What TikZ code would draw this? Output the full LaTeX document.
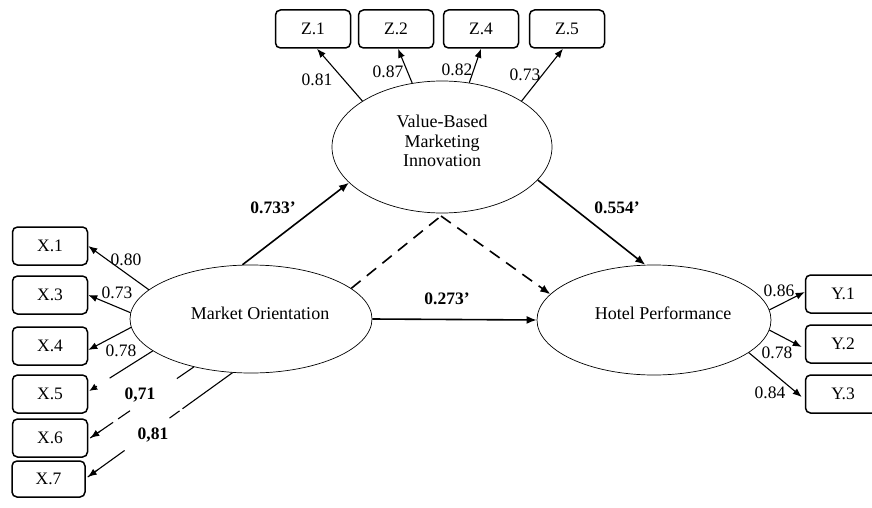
\documentclass[tikz,border=0pt]{standalone}
\usepackage{fontspec}
\setmainfont{Liberation Serif}
\usetikzlibrary{arrows.meta,shapes.geometric,calc}
\begin{document}
\begin{tikzpicture}[x=1pt,y=-1pt,
  font=\fontsize{17.5}{19}\selectfont,
  ind/.style={draw,rounded corners=5pt,line width=1.5pt,minimum width=75pt,minimum height=38pt,inner sep=0pt},
  lat/.style={draw,ellipse,line width=0.7pt,inner sep=0pt},
  latname/.style={inner sep=0pt,align=center,font=\fontsize{18}{19.5}\selectfont},
  arr/.style={line width=1.1pt,-{Latex[length=9pt,width=7pt]}},
  ln/.style={line width=1.1pt},
  struct/.style={line width=1.6pt,-{Latex[length=10pt,width=8pt]}},
  lbl/.style={inner sep=0pt},
  blbl/.style={inner sep=0pt,font=\fontsize{17.5}{19}\selectfont\bfseries}]
\clip (0,0) rectangle (872,508);
\fill[white] (0,0) rectangle (872,508);

% latent variables
\node[lat,minimum width=220pt,minimum height=132pt] (vb) at (442,147) {};
\node[latname] (vbt) at (442,141) {Value-Based\\Marketing\\Innovation};
\node[lat,minimum width=242pt,minimum height=108pt] (mo) at (251,319) {};
\node[latname] (mot) at (260,313) {Market Orientation};
\node[lat,minimum width=234pt,minimum height=110pt] (hp) at (654,320) {};
\node[latname] (hpt) at (663,313) {Hotel Performance};

% indicators
\node[ind] (z1) at (313,29) {Z.1};
\node[ind] (z2) at (396,29) {Z.2};
\node[ind] (z4) at (481,29) {Z.4};
\node[ind] (z5) at (567,29) {Z.5};

\node[ind] (x1) at (50,246) {X.1};
\node[ind] (x3) at (50,295) {X.3};
\node[ind] (x4) at (50,346) {X.4};
\node[ind] (x5) at (50,394) {X.5};
\node[ind] (x6) at (50,438) {X.6};
\node[ind,minimum height=36pt,minimum width=73pt] (x7) at (48.5,479) {X.7};

\node[ind] (y1) at (843,294) {Y.1};
\node[ind] (y2) at (843,344) {Y.2};
\node[ind] (y3) at (843,394) {Y.3};

% loadings of VB
\draw[arr] (vb.150) -- ([xshift=4pt]z1.south);
\draw[arr] (vb.115) -- ([xshift=2pt]z2.south);
\draw[arr] (vb.67) -- (z4.south);
\draw[arr] (vb.30) -- ([xshift=-4pt]z5.south);
\node[lbl] (l1) at (317,80) {0.81};
\node[lbl] (l2) at (388,72) {0.87};
\node[lbl] (l3) at (457,70) {0.82};
\node[lbl] (l4) at (525,75) {0.73};

% loadings of MO
\draw[arr] (mo.164) -- (x1.east);
\draw[arr] (mo.177) -- (x3.east);
\draw[arr] (mo.184) -- ([yshift=-4pt]x4.east);
\coordinate (e5) at ([yshift=3pt,xshift=1pt]x5.east);
\coordinate (e6) at ([xshift=2pt]x6.east);
\coordinate (e7) at ([xshift=2pt,yshift=2pt]x7.east);
\draw[ln,dash pattern=on 51pt off 40pt] (mo.198) -- (e5);
\draw[arr,-{Latex[length=8pt,width=7pt]}] ($(e5)!9pt!(mo.198)$) -- (e5);
\draw[ln,dash pattern=on 20.6pt off 56.8pt on 14.5pt off 6pt on 60pt] (mo.220) -- (e6);
\draw[arr] ($(e6)!12pt!(mo.220)$) -- (e6);
\draw[ln,dash pattern=on 61.6pt off 3.7pt on 12.3pt off 55.4pt on 80pt] (mo.251.6) -- (e7);
\draw[arr] ($(e7)!12pt!(mo.251.6)$) -- (e7);
\node[lbl] (l5) at (126,260) {0.80};
\node[lbl] (l6) at (117,293) {0.73};
\node[lbl] (l7) at (121,351) {0.78};
\node[blbl] (l8) at (140,395) {0,71};
\node[blbl] (l9) at (153,435) {0,81};

% loadings of HP
\draw[arr] (hp.5.5) -- ([yshift=2pt]y1.west);
\draw[arr] (hp.-5) -- ([yshift=-3pt,xshift=-3pt]y2.west);
\draw[arr] (hp.-19.3) -- ([yshift=-3pt,xshift=-3pt]y3.west);
\node[lbl] (l10) at (779,291) {0.86};
\node[lbl] (l11) at (777,353) {0.78};
\node[lbl] (l12) at (770,393) {0.84};

% structural paths
\draw[struct] (mo.99) -- (vb.201);
\draw[struct] (vb.-19) -- (hp.99);
\draw[struct] (mo.east) -- (hp.west);
\node[blbl] (p1) at (273,208) {0.733’};
\node[blbl] (p2) at (617,208) {0.554’};
\node[blbl] (p3) at (447,299) {0.273’};

% mediation (dashed)
\coordinate (m) at (441,216);
\draw[line width=1.6pt,dash pattern=on 12pt off 8pt] (mo.17) -- (m);
\draw[line width=1.6pt,dash pattern=on 12pt off 8pt] (m) -- (hp.166);
\draw[struct] ($(hp.166)!10pt!(m)$) -- (hp.166);
\end{tikzpicture}
\end{document}
